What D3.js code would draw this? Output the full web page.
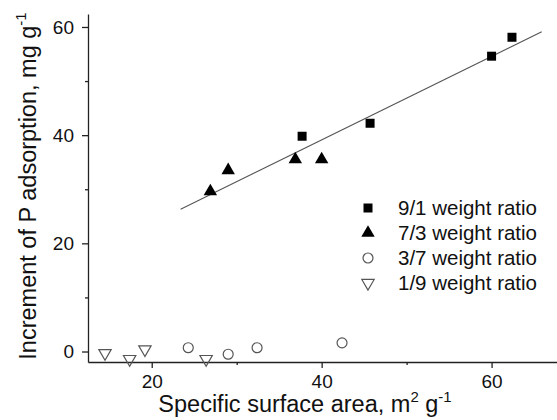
<!DOCTYPE html>
<html>
<head>
<meta charset="utf-8">
<script src="https://cdn.jsdelivr.net/npm/d3@7"></script>
<style>
  html, body { margin: 0; padding: 0; background: #fff; }
  svg { display: block; }
  text { font-family: "Liberation Sans", Arial, sans-serif; fill: #111; }
</style>
</head>
<body>
<svg id="chart" width="557" height="420"></svg>
<script>
// Specific surface area (m2/g) and P adsorption increment (mg/g) per weight ratio
const ratio91 = { x: [37.7, 45.7, 60.0, 62.4], y: [39.8, 42.2, 54.6, 58.1] };
const ratio73 = { x: [26.9, 29.0, 36.9, 40.0], y: [29.6, 33.5, 35.5, 35.5] };
const ratio37 = { x: [24.3, 29.0, 32.4, 42.4], y: [0.7, -0.5, 0.7, 1.6] };
const ratio19 = { x: [14.5, 17.4, 19.2, 26.4], y: [-0.3, -1.4, 0.4, -1.4] };

const legendLabels = ["9/1 weight ratio", "7/3 weight ratio", "3/7 weight ratio", "1/9 weight ratio"];

// Linear fit through the high-ratio samples: y = intercept + slope * x
const fitIntercept = 8.24;
const fitSlope = 0.772;
const fitRange = [23.4, 65.9];

const xMajor = [20, 40, 60];
const xMinor = [30, 50];
const yMajor = [0, 20, 40, 60];
const yMinor = [10, 30, 50];

const svg = d3.select("#chart");

const x = d3.scaleLinear().domain([12.5, 67.7]).range([88, 557]);
const y = d3.scaleLinear().domain([-1.94, 62.4]).range([362, 14]);

// Axes
const xAxis = svg.append("g").attr("transform", `translate(0,${y.range()[0]})`);
xAxis.call(d3.axisBottom(x).tickValues(xMajor).tickSize(6).tickPadding(6).tickSizeOuter(0));
xAxis.append("g").call(d3.axisBottom(x).tickValues(xMinor).tickSize(3).tickFormat("").tickSizeOuter(0))
  .select(".domain").remove();

const yAxis = svg.append("g").attr("transform", `translate(${x.range()[0]},0)`);
yAxis.call(d3.axisLeft(y).tickValues(yMajor).tickSize(6).tickPadding(8).tickSizeOuter(0));
yAxis.append("g").call(d3.axisLeft(y).tickValues(yMinor).tickSize(3).tickFormat("").tickSizeOuter(0))
  .select(".domain").remove();

svg.selectAll(".domain, .tick line").attr("stroke", "#222").attr("stroke-width", 1.3);
svg.selectAll(".tick text").attr("font-size", 19).attr("font-family", "Liberation Sans, Arial, sans-serif").attr("fill", "#111");
xAxis.selectAll(".tick text").attr("dy", "0.75em");

// Fit line
svg.append("line")
  .attr("x1", x(fitRange[0])).attr("y1", y(fitIntercept + fitSlope * fitRange[0]))
  .attr("x2", x(fitRange[1])).attr("y2", y(fitIntercept + fitSlope * fitRange[1]))
  .attr("stroke", "#555").attr("stroke-width", 1.1);

// Marker shapes
const markers = [
  { data: ratio91, path: d3.symbol().type(d3.symbolSquare).size(81)(), fill: "#000", stroke: "none", rot: 0 },
  { data: ratio73, path: d3.symbol().type(d3.symbolTriangle).size(78)(), fill: "#000", stroke: "none", rot: 0 },
  { data: ratio37, path: d3.symbol().type(d3.symbolCircle).size(78)(), fill: "none", stroke: "#555", rot: 0 },
  { data: ratio19, path: d3.symbol().type(d3.symbolTriangle).size(66)(), fill: "none", stroke: "#555", rot: 180 }
];

markers.forEach(m => {
  const pts = m.data.x.map((v, i) => [v, m.data.y[i]]);
  svg.append("g").selectAll("path").data(pts).join("path")
    .attr("d", m.path)
    .attr("transform", d => `translate(${x(d[0])},${y(d[1])}) rotate(${m.rot})`)
    .attr("fill", m.fill)
    .attr("stroke", m.stroke)
    .attr("stroke-width", 1.2);
});

// Legend
const legend = svg.append("g").attr("transform", "translate(368,208)");
legendLabels.forEach((label, i) => {
  const m = markers[i];
  const row = legend.append("g").attr("transform", `translate(0,${i * 25})`);
  row.append("path").attr("d", m.path)
    .attr("transform", `rotate(${m.rot})`)
    .attr("fill", m.fill).attr("stroke", m.stroke).attr("stroke-width", 1.2);
  row.append("text").attr("x", 30).attr("y", 7).attr("font-size", 20.5).text(label);
});

// Axis titles
const xt = svg.append("text").attr("x", 305).attr("y", 412).attr("text-anchor", "middle").attr("font-size", 23.5);
xt.append("tspan").text("Specific surface area, m");
xt.append("tspan").attr("font-size", 15).attr("dy", -10).text("2");
xt.append("tspan").attr("dy", 10).text(" g");
xt.append("tspan").attr("font-size", 15).attr("dy", -10).text("-1");

const yt = svg.append("text").attr("transform", "translate(36,186) rotate(-90)")
  .attr("text-anchor", "middle").attr("font-size", 23.5);
yt.append("tspan").text("Increment of P adsorption, mg g");
yt.append("tspan").attr("font-size", 15).attr("dy", -10).text("-1");
</script>
</body>
</html>
